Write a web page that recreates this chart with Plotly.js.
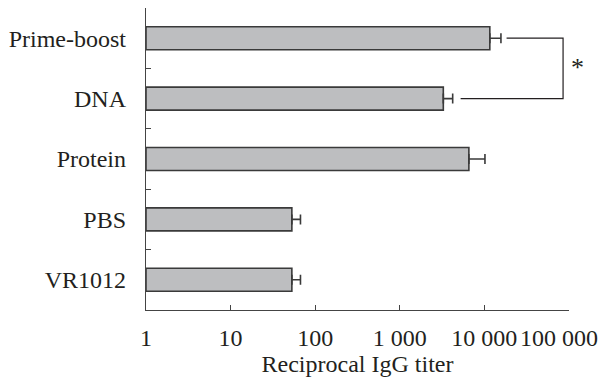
<!DOCTYPE html>
<html>
<head>
<meta charset="utf-8">
<script src="https://cdn.plot.ly/plotly-3.0.1.min.js"></script>
<style>html,body{margin:0;padding:0;background:#fff;}#chart{width:602px;height:386px;}</style>
</head>
<body>
<div id="chart"></div>
<script>
// Data
const groups = ["Prime-boost", "DNA", "Protein", "PBS", "VR1012"];
const titers = [11600, 3270, 6560, 52, 52];
const errPlus = [4100, 950, 3600, 14, 14];
const tickValues = [1, 10, 100, 1000, 10000, 100000];
const tickLabels = ["1", "10", "100", "1 000", "10 000", "100 000"];
const bracketX = [18300, 85200, 85200, 5240];
const bracketY = ["Prime-boost", "Prime-boost", "DNA", "DNA"];
const sigLabel = "*";

const ink = "#231f20";
const serif = "Liberation Serif, Times New Roman, serif";

// the last tick label is drawn as an annotation nudged left so it stays inside the page
const lastIdx = tickLabels.length - 1;
const shownTickText = tickLabels.map((t, i) => (i === lastIdx ? "" : t));

const traces = [
  {
    type: "bar",
    orientation: "h",
    y: groups,
    x: titers,
    base: 1,
    width: 0.38,
    marker: {color: "#bdbec0", line: {color: "#3a3a3a", width: 1.6}},
    error_x: {type: "data", symmetric: false, array: errPlus, arrayminus: groups.map(() => 0),
              color: "#3a3a3a", thickness: 1.6, width: 5},
    hoverinfo: "skip"
  },
  {
    type: "scatter",
    mode: "lines",
    x: bracketX,
    y: bracketY,
    line: {color: ink, width: 1.2},
    cliponaxis: false,
    hoverinfo: "skip"
  }
];

const layout = {
  width: 602,
  height: 386,
  margin: {l: 146, r: 33, t: 8, b: 76},
  paper_bgcolor: "#fff",
  plot_bgcolor: "#fff",
  showlegend: false,
  font: {family: serif, color: ink, size: 24},
  xaxis: {
    type: "log",
    range: [0, 5.0005],
    tickvals: tickValues,
    ticktext: shownTickText,
    ticks: "inside",
    ticklen: 5,
    tickwidth: 1.2,
    tickcolor: "#444",
    showline: true,
    linecolor: "#444",
    linewidth: 1.2,
    showgrid: false,
    zeroline: false,
    tickfont: {family: serif, size: 24, color: ink},
    ticklabelstandoff: 6,
    title: {text: "Reciprocal IgG titer", font: {family: serif, size: 24, color: ink}, standoff: 4}
  },
  yaxis: {
    type: "category",
    categoryorder: "array",
    categoryarray: groups,
    range: [4.5, -0.5],
    tickson: "boundaries",
    ticks: "inside",
    ticklen: 5,
    tickwidth: 1.2,
    tickcolor: "#444",
    showline: true,
    linecolor: "#444",
    linewidth: 1.2,
    showgrid: false,
    zeroline: false,
    tickfont: {family: serif, size: 24, color: ink},
    ticklabelstandoff: 14
  },
  annotations: [
    {
      text: sigLabel,
      xref: "paper", yref: "y",
      x: 1.021, y: 0.48,
      xanchor: "center",
      showarrow: false,
      font: {family: serif, size: 26, color: ink}
    },
    {
      text: tickLabels[lastIdx],
      xref: "paper", yref: "paper",
      x: 1.0, xshift: 31, y: -0.093,
      xanchor: "right", yanchor: "middle",
      showarrow: false,
      font: {family: serif, size: 24, color: ink}
    }
  ]
};

Plotly.newPlot("chart", traces, layout, {staticPlot: true, displayModeBar: false});
</script>
</body>
</html>
